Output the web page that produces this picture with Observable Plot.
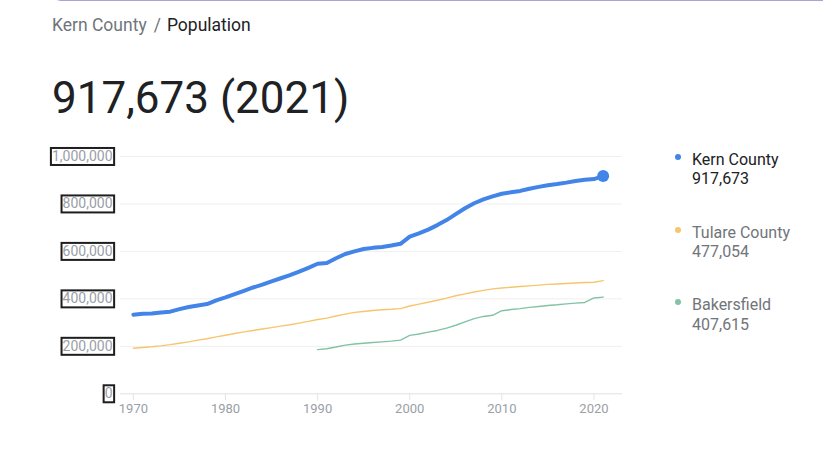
<!DOCTYPE html>
<html>
<head>
<meta charset="utf-8">
<script src="https://cdn.jsdelivr.net/npm/d3@7"></script>
<script src="https://cdn.jsdelivr.net/npm/@observablehq/plot@0.6"></script>
<style>
  html, body { margin: 0; padding: 0; background: #fff; }
  body { width: 823px; height: 465px; position: relative; overflow: hidden; font-family: Roboto, "Noto Sans", sans-serif; }
  .searchbox { position: absolute; left: 52px; top: -30px; width: 820px; height: 31px; border: 1px solid #a9a4d4; border-radius: 9px; box-sizing: border-box; }
  .crumb { position: absolute; left: 52px; top: 17px; font-size: 17.5px; line-height: 17.5px; color: #70757a; white-space: nowrap; }
  .crumb .sep { margin: 0 6px 0 7px; color: #70757a; }
  .crumb .cur { color: #202124; }
  .big { position: absolute; left: 52px; top: 76px; font-size: 44px; line-height: 44px; color: #202124; white-space: nowrap; }
  #chart { position: absolute; left: 0; top: 140px; }
  .leg { position: absolute; left: 692px; font-size: 16px; line-height: 19.3px; white-space: nowrap; }
  .leg .dot { position: absolute; left: -17px; top: 4px; width: 6px; height: 6px; border-radius: 50%; }
</style>
</head>
<body>
<div class="searchbox"></div>
<div class="crumb">Kern County<span class="sep">/</span><span class="cur">Population</span></div>
<div class="big">917,673 (2021)</div>
<div id="chart"></div>
<div id="legend"></div>
<script>
const years = [1970,1971,1972,1973,1974,1975,1976,1977,1978,1979,
  1980,1981,1982,1983,1984,1985,1986,1987,1988,1989,
  1990,1991,1992,1993,1994,1995,1996,1997,1998,1999,
  2000,2001,2002,2003,2004,2005,2006,2007,2008,2009,
  2010,2011,2012,2013,2014,2015,2016,2017,2018,2019,
  2020,2021];

const kern = [333000,337000,338000,343000,346000,357000,366000,372000,378000,394000,
  406000,420000,434000,448000,460000,474000,487000,500000,515000,531000,
  548000,551000,571000,589000,600000,610000,615000,619000,625000,632000,
  662000,676000,692000,711000,732000,757000,782000,803000,819000,832000,
  843000,849000,855000,864000,872000,879000,884000,890000,897000,902000,
  905000,917673];

const tulare = [192000,195000,198000,202000,207000,213000,219000,226000,232000,240000,
  247000,254000,261000,267000,273000,279000,285000,291000,298000,305000,
  313000,319000,328000,336000,343000,347000,351000,354000,356000,359000,
  370000,378000,386000,394000,403000,413000,421000,429000,436000,442000,
  446000,449000,452000,455000,458000,461000,463000,465000,467000,469000,
  470000,477054];

const bakersfield = [null,null,null,null,null,null,null,null,null,null,
  null,null,null,null,null,null,null,null,null,null,
  186000,190000,197000,205000,210000,213000,216000,219000,222000,226000,
  246000,252000,260000,267000,277000,289000,303000,317000,326000,331000,
  350000,355000,359000,364000,368000,372000,375000,379000,382000,385000,
  404000,407615];

const seriesNames = ["Kern County", "Tulare County", "Bakersfield"];
const seriesColors = ["#4284e8", "#f5c66e", "#82c3a4"];
const latestLabels = ["917,673", "477,054", "407,615"];
const xTicks = [1970, 1980, 1990, 2000, 2010, 2020];
const yTicks = [0, 200000, 400000, 600000, 800000, 1000000];

const rows = (vals) => years.map((y, i) => ({year: y, value: vals[i]}));
const kernRows = rows(kern), tulareRows = rows(tulare), bakRows = rows(bakersfield);
const last = kernRows[kernRows.length - 1];

const plot = Plot.plot({
  width: 823,
  height: 290,
  marginLeft: 120,
  marginRight: 201,
  marginTop: 16,
  marginBottom: 36.7,
  style: {fontFamily: "Roboto, sans-serif", background: "transparent", overflow: "visible"},
  x: {domain: [1968.6, 2023.1], ticks: xTicks},
  y: {domain: [0, 1000000], ticks: yTicks},
  marks: [
    Plot.gridY(yTicks.filter(d => d > 0), {stroke: "#efefef", strokeOpacity: 1}),
    Plot.ruleY([0], {stroke: "#e2e2e2"}),
    Plot.axisY(yTicks, {tickSize: 0, tickPadding: 8, tickFormat: d3.format(","), fill: "#9aa0a6", fontSize: 14, label: null}),
    Plot.axisX(xTicks, {tickSize: 7, tickPadding: 3, tickFormat: d => String(d), stroke: "#e4e4e4", fill: "#9aa0a6", fontSize: 13, label: null}),
    Plot.lineY(bakRows, {x: "year", y: "value", stroke: seriesColors[2], strokeWidth: 1.4}),
    Plot.lineY(tulareRows, {x: "year", y: "value", stroke: seriesColors[1], strokeWidth: 1.4}),
    Plot.lineY(kernRows, {x: "year", y: "value", stroke: seriesColors[0], strokeWidth: 4, strokeLinejoin: "round", strokeLinecap: "round"}),
    Plot.dot([last], {x: "year", y: "value", r: 6, fill: seriesColors[0]})
  ]
});
document.getElementById("chart").appendChild(plot);

// outline boxes around the y tick labels (as in the reference picture)
requestAnimationFrame(() => {});
const svgRect = plot.getBoundingClientRect();
const ns = "http://www.w3.org/2000/svg";
plot.querySelectorAll('g[aria-label="y-axis tick label"] text').forEach(t => {
  const b = t.getBoundingClientRect();
  const r = document.createElementNS(ns, "rect");
  r.setAttribute("x", b.left - svgRect.left - 1);
  r.setAttribute("y", b.top - svgRect.top);
  r.setAttribute("width", b.width + 2.5);
  r.setAttribute("height", b.height + 1);
  r.setAttribute("fill", "none");
  r.setAttribute("stroke", "#1e1e1e");
  r.setAttribute("stroke-width", 2);
  plot.appendChild(r);
});

// legend
const legend = document.getElementById("legend");
seriesNames.forEach((name, i) => {
  const div = document.createElement("div");
  div.className = "leg";
  div.style.top = (150 + i * 72.7) + "px";
  div.style.color = i === 0 ? "#202124" : "#70757a";
  div.innerHTML = `<span class="dot" style="background:${seriesColors[i]}"></span>${name}<br>${latestLabels[i]}`;
  legend.appendChild(div);
});
</script>
</body>
</html>
